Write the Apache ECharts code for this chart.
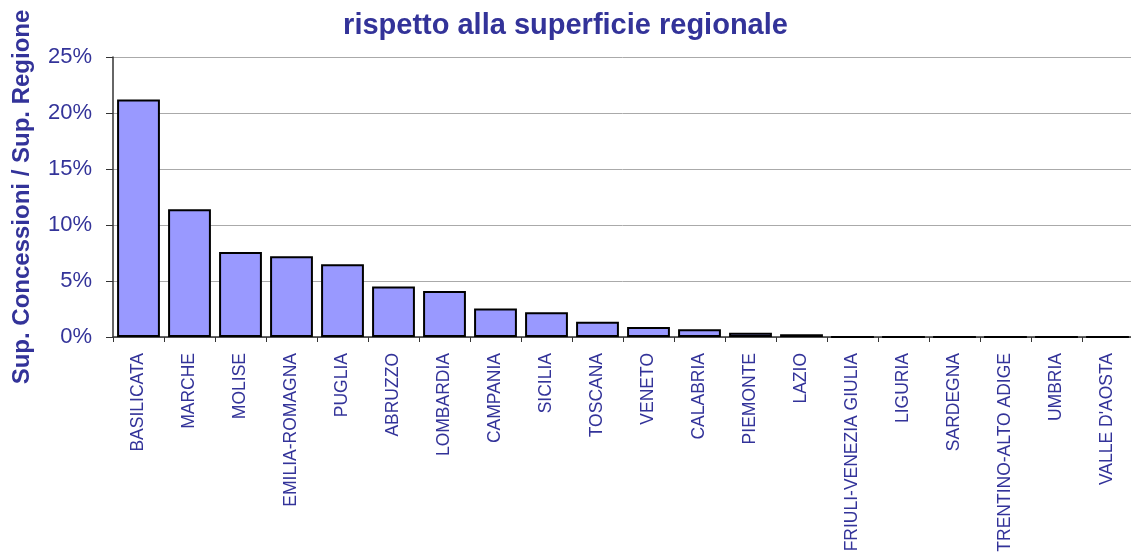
<!DOCTYPE html>
<html>
<head>
<meta charset="utf-8">
<script src="https://cdn.jsdelivr.net/npm/echarts@6/dist/echarts.min.js"></script>
<style>
  html, body { margin: 0; padding: 0; background: #fff; }
  #main { width: 1131px; height: 556px; }
</style>
</head>
<body>
<div id="main"></div>
<script>
  var myChart = echarts.init(document.getElementById('main'));

  // regioni e rapporto superficie concessioni / superficie regione (%)
  let regioni = ['BASILICATA', 'MARCHE', 'MOLISE', 'EMILIA-ROMAGNA', 'PUGLIA', 'ABRUZZO',
    'LOMBARDIA', 'CAMPANIA', 'SICILIA', 'TOSCANA', 'VENETO', 'CALABRIA', 'PIEMONTE',
    'LAZIO', 'FRIULI-VENEZIA GIULIA', 'LIGURIA', 'SARDEGNA', 'TRENTINO-ALTO ADIGE',
    'UMBRIA', "VALLE D'AOSTA"];
  let rapporto = [21.2, 11.4, 7.6, 7.2, 6.5, 4.5, 4.1, 2.55, 2.2, 1.37, 0.9, 0.7, 0.37,
    0.25, 0, 0, 0, 0, 0, 0];
  let yTicks = [0, 5, 10, 15, 20, 25];

  var blu = '#333399';

  var option = {
    animation: false,
    textStyle: { fontFamily: 'Liberation Sans, Arial, sans-serif' },
    title: {
      text: 'rispetto alla superficie regionale',
      left: 'center',
      top: 6,
      textStyle: { color: blu, fontSize: 29, fontWeight: 'bold' }
    },
    grid: { left: 113, top: 57, width: 1020, height: 280, outerBoundsMode: 'none' },
    xAxis: {
      type: 'category',
      data: regioni,
      axisLine: { lineStyle: { color: '#333', width: 1.5 } },
      axisTick: { show: true, length: 5, lineStyle: { color: '#333' } },
      axisLabel: { rotate: 90, interval: 0, margin: 16, color: blu, fontSize: 17.5 }
    },
    yAxis: {
      type: 'value',
      min: yTicks[0],
      max: yTicks[yTicks.length - 1],
      interval: 5,
      name: 'Sup. Concessioni / Sup. Regione',
      nameLocation: 'middle',
      nameGap: 79,
      nameTextStyle: { color: blu, fontSize: 24, fontWeight: 'bold' },
      axisLine: { show: true, lineStyle: { color: '#333', width: 1.5 } },
      axisTick: { show: true, length: 7, lineStyle: { color: '#333' } },
      axisLabel: { formatter: '{value}%', color: blu, fontSize: 22, margin: 21 },
      splitLine: { lineStyle: { color: '#aaa', width: 1 } }
    },
    series: [{
      type: 'bar',
      data: rapporto,
      barCategoryGap: '16%',
      itemStyle: { color: '#9999FF', borderColor: '#000', borderWidth: 2 }
    }]
  };

  myChart.setOption(option);
</script>
</body>
</html>
